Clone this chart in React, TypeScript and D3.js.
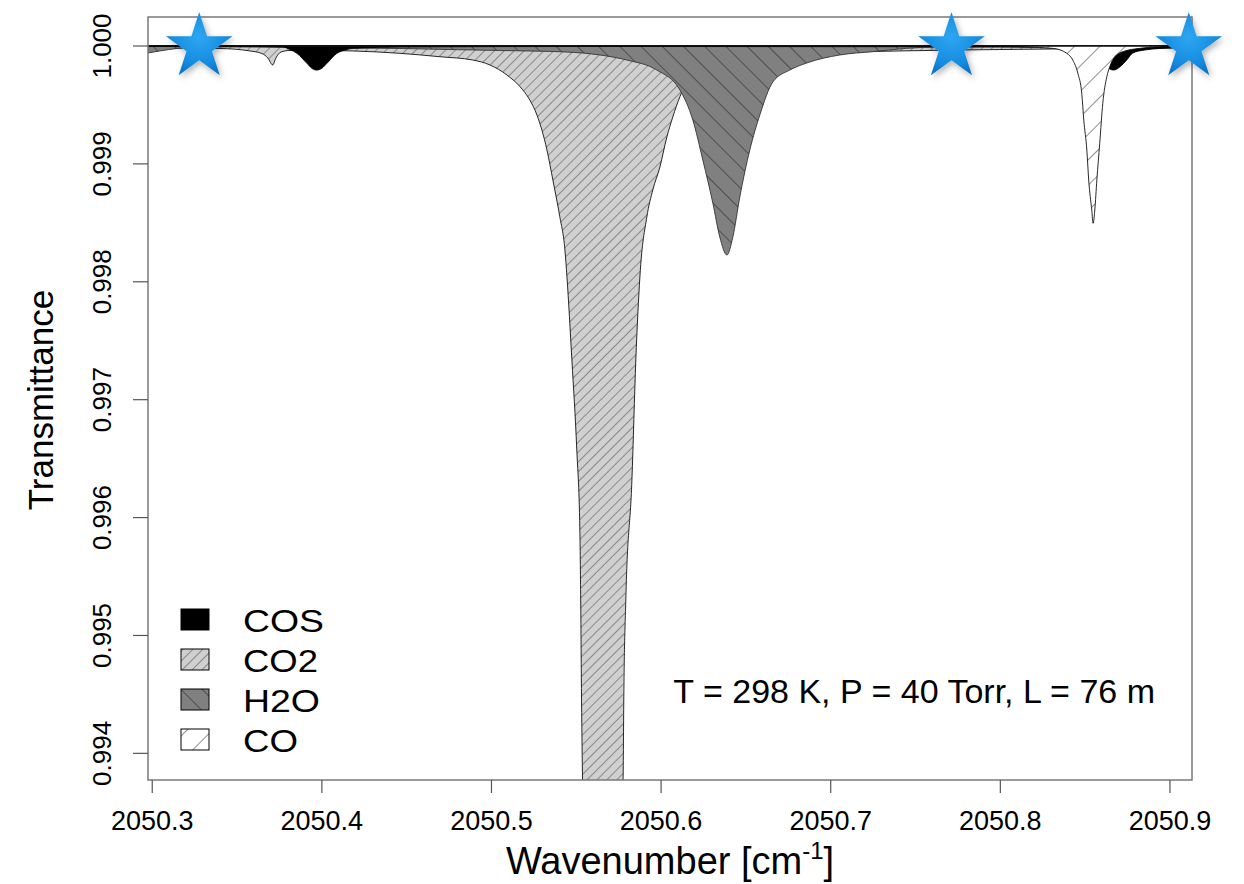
import React from 'react';
import * as d3 from 'd3';

// spectra: [wavenumber (cm-1), transmittance]
const co2Spectrum: [number, number][] = [
  [2050.2975, 0.999983], [2050.3163, 0.999983], [2050.3399, 0.999979], [2050.3576, 0.999958],
  [2050.3647, 0.999936], [2050.3682, 0.999898], [2050.371, 0.999839], [2050.3729, 0.999898],
  [2050.3759, 0.999949], [2050.3812, 0.999962], [2050.4, 0.999962], [2050.4183, 0.999958],
  [2050.446, 0.999938], [2050.4696, 0.999909], [2050.489, 0.999881], [2050.4991, 0.999839],
  [2050.5091, 0.999754], [2050.5185, 0.999627], [2050.5226, 0.999542], [2050.5268, 0.999415],
  [2050.5327, 0.999118], [2050.5362, 0.998863], [2050.5403, 0.99855], [2050.5433, 0.99827],
  [2050.5445, 0.998041], [2050.5474, 0.997337], [2050.5503, 0.996573], [2050.5521, 0.995895],
  [2050.5526, 0.995301], [2050.5531, 0.994453], [2050.5537, 0.993774], [2050.558, 0.991908],
  [2050.5657, 0.99106], [2050.5727, 0.991908], [2050.5776, 0.993774], [2050.578, 0.994453],
  [2050.5792, 0.995301], [2050.5828, 0.996319], [2050.5851, 0.997337], [2050.5875, 0.998041],
  [2050.5916, 0.99855], [2050.5951, 0.998779], [2050.5993, 0.998974], [2050.6034, 0.999228],
  [2050.6069, 0.999398], [2050.6111, 0.99957], [2050.6128, 0.999627], [2050.6228, 0.999771],
  [2050.6423, 0.999881], [2050.6617, 0.999909], [2050.6818, 0.999932], [2050.7407, 0.999958],
  [2050.7997, 0.99997], [2050.8586, 0.999979], [2050.913, 0.999983],
];

const h2oSpectrum: [number, number][] = [
  [2050.2975, 0.999941], [2050.3045, 0.999958], [2050.3146, 0.999979], [2050.3281, 0.999992],
  [2050.3399, 0.999993], [2050.3871, 0.999987], [2050.4165, 0.999983], [2050.446, 0.999979],
  [2050.4755, 0.99997], [2050.505, 0.999962], [2050.5439, 0.999949], [2050.5639, 0.999924],
  [2050.5798, 0.999881], [2050.5975, 0.999796], [2050.6111, 0.999627], [2050.6187, 0.999372],
  [2050.6246, 0.999033], [2050.6305, 0.998668], [2050.6346, 0.99838], [2050.6388, 0.998227],
  [2050.6423, 0.99838], [2050.6464, 0.998719], [2050.6523, 0.999118], [2050.6582, 0.999415],
  [2050.6659, 0.999695], [2050.6759, 0.999796], [2050.6859, 0.999856], [2050.7054, 0.999924],
  [2050.7248, 0.999952], [2050.7448, 0.99998], [2050.7643, 0.999992], [2050.7997, 0.999994],
  [2050.913, 0.999996],
];

const cosSpectrum: [number, number][] = [
  [2050.2975, 0.999998], [2050.3576, 0.999996], [2050.377, 0.999992], [2050.3812, 0.99997],
  [2050.3853, 0.999938], [2050.3912, 0.999853], [2050.3941, 0.999811], [2050.3969, 0.999796],
  [2050.4, 0.999811], [2050.403, 0.999853], [2050.4089, 0.999938], [2050.4136, 0.999966],
  [2050.4183, 0.99998], [2050.446, 0.999992], [2050.5639, 0.999996], [2050.7407, 0.999994],
  [2050.7997, 0.999992], [2050.835, 0.999983], [2050.851, 0.99997], [2050.8551, 0.999938],
  [2050.861, 0.999853], [2050.8639, 0.999811], [2050.8669, 0.999796], [2050.8704, 0.999822],
  [2050.8745, 0.999881], [2050.8781, 0.999941], [2050.8851, 0.999966], [2050.894, 0.999979],
  [2050.913, 0.999992],
];

const coSpectrum: [number, number][] = [
  [2050.2975, 0.999999], [2050.7997, 0.999997], [2050.8309, 0.99998], [2050.8392, 0.999938],
  [2050.8427, 0.999881], [2050.8457, 0.999768], [2050.848, 0.999599], [2050.8492, 0.999372],
  [2050.851, 0.999118], [2050.8521, 0.998863], [2050.8539, 0.998609], [2050.8547, 0.998496],
  [2050.8557, 0.998609], [2050.8569, 0.998863], [2050.8586, 0.999175], [2050.8604, 0.999514],
  [2050.8628, 0.99974], [2050.8645, 0.999824], [2050.8675, 0.999909], [2050.8722, 0.999952],
  [2050.8822, 0.99998], [2050.894, 0.999994], [2050.913, 0.999997],
];

const starWavenumbers = [2050.3277, 2050.7712, 2050.9111];
const xTicks = [2050.3, 2050.4, 2050.5, 2050.6, 2050.7, 2050.8, 2050.9];
const yTicks = [0.994, 0.995, 0.996, 0.997, 0.998, 0.999, 1.0];
const legendNames = ['COS', 'CO2', 'H2O', 'CO'];
const legendFills = ['#000', 'url(#hatchCO2)', 'url(#hatchH2O)', 'url(#hatchCO)'];
const legendWidths = [81, 75, 77, 55];

const font = '"Liberation Sans", Arial, sans-serif';

export default function App() {
  const left = 148, right = 1192, top = 17, bottom = 780;
  const x = d3.scaleLinear().domain([2050.2975, 2050.913]).range([left, right]);
  const y = d3.scaleLinear().domain([0.993774, 1.000246]).range([bottom, top]);

  const area = d3
    .area<[number, number]>()
    .x((d) => x(d[0]))
    .y0(y(1))
    .y1((d) => y(d[1]))
    .curve(d3.curveMonotoneX);

  const star = d3.symbol().type(d3.symbolStar).size(1375)();
  const fmtX = d3.format('.1f');
  const fmtY = d3.format('.3f');

  return (
    <svg
      width={1244}
      height={884}
      style={{ position: 'absolute', left: 0, top: 0, background: '#fff' }}
      fontFamily={font}
    >
      <defs>
        <clipPath id="plotClip">
          <rect x={left} y={top} width={right - left} height={bottom - top} />
        </clipPath>
        <pattern id="hatchCO2" patternUnits="userSpaceOnUse" width="7" height="7" patternTransform="rotate(45)">
          <rect width="7" height="7" fill="#d0d0d0" />
          <line x1="0" y1="0" x2="0" y2="7" stroke="#333" strokeWidth="0.9" />
        </pattern>
        <pattern id="hatchH2O" patternUnits="userSpaceOnUse" width="15" height="15" patternTransform="rotate(-45)">
          <rect width="15" height="15" fill="#808080" />
          <line x1="0" y1="0" x2="0" y2="15" stroke="#111" strokeWidth="0.9" />
        </pattern>
        <pattern id="hatchCO" patternUnits="userSpaceOnUse" width="18" height="18" patternTransform="rotate(45)">
          <rect width="18" height="18" fill="#fff" />
          <line x1="0" y1="0" x2="0" y2="18" stroke="#222" strokeWidth="1" />
        </pattern>
        <radialGradient id="starFill" cx="50%" cy="40%" r="60%">
          <stop offset="0%" stopColor="#2ea6f0" />
          <stop offset="70%" stopColor="#168ce0" />
          <stop offset="100%" stopColor="#0a74c8" />
        </radialGradient>
        <filter id="starShadow" x="-50%" y="-50%" width="200%" height="200%">
          <feDropShadow dx="2" dy="3" stdDeviation="3" floodColor="#000" floodOpacity="0.3" />
        </filter>
      </defs>

      <g clipPath="url(#plotClip)">
        <path d={area(co2Spectrum) ?? ''} fill="url(#hatchCO2)" stroke="#111" strokeWidth={0.9} />
        <path d={area(h2oSpectrum) ?? ''} fill="url(#hatchH2O)" stroke="#333" strokeWidth={0.9} />
        <path d={area(cosSpectrum) ?? ''} fill="#000" stroke="#000" strokeWidth={0.9} />
        <path d={area(coSpectrum) ?? ''} fill="url(#hatchCO)" stroke="#111" strokeWidth={0.9} />
        <line x1={left} x2={right} y1={y(1)} y2={y(1)} stroke="#000" strokeWidth={1} />
      </g>

      {/* frame and axes */}
      <rect x={left} y={top} width={right - left} height={bottom - top} fill="none" stroke="#7a7a7a" strokeWidth={1.5} />
      {xTicks.map((t) => (
        <g key={t}>
          <line x1={x(t)} x2={x(t)} y1={bottom} y2={bottom + 13} stroke="#555" strokeWidth={1.2} />
          <text x={x(t)} y={830} textAnchor="middle" fontSize={27}>
            {fmtX(t)}
          </text>
        </g>
      ))}
      {yTicks.map((t) => (
        <g key={t}>
          <line x1={left - 15} x2={left} y1={y(t)} y2={y(t)} stroke="#555" strokeWidth={1.2} />
          <text
            transform={`translate(111,${y(t)}) rotate(-90)`}
            textAnchor="middle"
            fontSize={26}
          >
            {fmtY(t)}
          </text>
        </g>
      ))}
      <text transform="translate(53,400) rotate(-90)" textAnchor="middle" fontSize={35}>
        Transmittance
      </text>
      <text x={(left + right) / 2} y={874} textAnchor="middle" fontSize={38}>
        Wavenumber [cm
        <tspan fontSize={24} dy={-15}>-1</tspan>
        <tspan dy={15}>]</tspan>
      </text>

      {/* legend */}
      {legendNames.map((name, i) => (
        <g key={name}>
          <rect x={181} y={609 + i * 40} width={28} height={21} fill={legendFills[i]} stroke="#000" strokeWidth={1} />
          <text
            x={243}
            y={632 + i * 40}
            fontSize={32}
            textLength={legendWidths[i]}
            lengthAdjust="spacingAndGlyphs"
          >
            {name}
          </text>
        </g>
      ))}

      <text x={1155} y={703} textAnchor="end" fontSize={34}>
        T = 298 K, P = 40 Torr, L = 76 m
      </text>

      {starWavenumbers.map((w) => (
        <path
          key={w}
          d={star ?? ''}
          transform={`translate(${x(w)},${y(1) + 1})`}
          fill="url(#starFill)"
          filter="url(#starShadow)"
        />
      ))}
    </svg>
  );
}
